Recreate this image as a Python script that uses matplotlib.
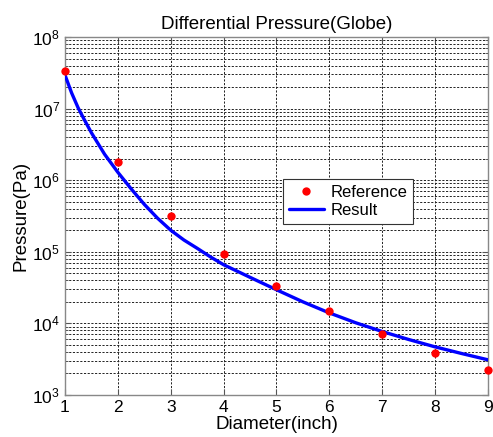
import matplotlib
matplotlib.use("Agg")
import matplotlib.pyplot as plt
from matplotlib.ticker import LogLocator

plt.rcParams['font.family'] = ['Liberation Sans', 'DejaVu Sans']
plt.rcParams['mathtext.fontset'] = 'custom'
plt.rcParams['mathtext.rm'] = 'Liberation Sans'
plt.rcParams['mathtext.it'] = 'Liberation Sans'
plt.rcParams['mathtext.default'] = 'regular'

# Reference points
ref_diameter = [1, 2, 3, 4, 5, 6, 7, 8, 9]
ref_pressure = [3.35e7, 1.8e6, 3.16e5, 9.2e4, 3.3e4, 1.5e4, 7.0e3, 3.8e3, 2.2e3]

# Result curve
res_diameter = [1.0, 1.125, 1.25, 1.375, 1.5, 1.75, 2.0, 2.25, 2.5, 2.75, 3.0,
                3.25, 3.5, 3.75, 4.0, 4.5, 5.0, 5.5, 6.0, 6.5, 7.0, 7.5, 8.0,
                8.5, 9.0]
res_pressure = [2.95e7, 1.66e7, 1.02e7, 6.8e6, 4.6e6, 2.3e6, 1.29e6, 7.6e5,
                4.6e5, 2.95e5, 2.0e5, 1.46e5, 1.12e5, 8.5e4, 6.6e4, 4.4e4,
                2.95e4, 2.0e4, 1.4e4, 1.02e4, 7.7e3, 5.96e3, 4.7e3, 3.8e3, 3.1e3]

x_ticks = [1, 2, 3, 4, 5, 6, 7, 8, 9]
y_ticks = [1e3, 1e4, 1e5, 1e6, 1e7, 1e8]
y_tick_labels = ['$10^{3}$', '$10^{4}$', '$10^{5}$', '$10^{6}$', '$10^{7}$', '$10^{8}$']

fig = plt.figure(figsize=(4.93, 4.37), dpi=100)
ax = fig.add_axes([0.1318, 0.0961, 0.8581, 0.8192])

ax.plot(ref_diameter, ref_pressure, 'o', color=(1, 0, 0), markersize=6,
        markeredgewidth=0, label='Reference', zorder=4, clip_on=False)
ax.plot(res_diameter, res_pressure, '-', color=(0, 0, 1), linewidth=2.4,
        label='Result', zorder=3, solid_joinstyle='round', solid_capstyle='round')

ax.set_yscale('log')
ax.set_xlim(1, 9)
ax.set_ylim(1e3, 1e8)
ax.set_xticks(x_ticks)
ax.set_yticks(y_ticks)
ax.set_yticklabels(y_tick_labels)
ax.yaxis.set_minor_locator(LogLocator(base=10, subs=range(2, 10), numticks=20))
ax.yaxis.set_minor_formatter(plt.NullFormatter())

grid_style = dict(linestyle=(0, (2.2, 1.6)), color='#222222', linewidth=0.7)
ax.grid(True, which='major', **grid_style)
ax.grid(True, which='minor', axis='y', **grid_style)
ax.set_axisbelow(True)

ax.tick_params(which='both', direction='in', labelsize=12.5, top=True, right=True,
               color='#555555')
ax.tick_params(which='major', length=4)
ax.tick_params(which='minor', length=2)
for s in ax.spines.values():
    s.set_color('#888888')
    s.set_linewidth(1.0)

ax.set_title('Differential Pressure(Globe)', fontsize=13.5, pad=6)
ax.set_xlabel('Diameter(inch)', fontsize=13.5, labelpad=1)
ax.set_ylabel('Pressure(Pa)', fontsize=13.5, labelpad=2)

leg = ax.legend(loc='upper left', bbox_to_anchor=(0.515, 0.603), borderaxespad=0,
                fancybox=False, framealpha=1, edgecolor='#333333', fontsize=12,
                handlelength=2.1, handletextpad=0.4, borderpad=0.35, labelspacing=0.2,
                numpoints=1)
leg.get_frame().set_linewidth(0.8)

fig.savefig('out.png', dpi=100, facecolor='white')
